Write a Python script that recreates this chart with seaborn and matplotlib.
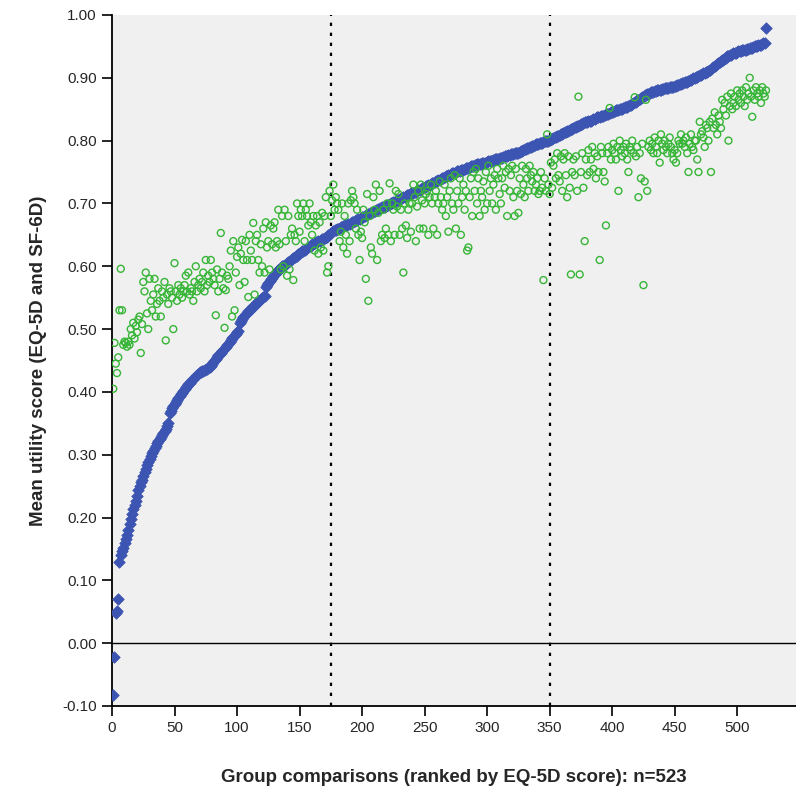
import numpy as np
import pandas as pd
import matplotlib
matplotlib.use('Agg')
import matplotlib.pyplot as plt
import seaborn as sns

# --- DADOS ---
# EQ-5D: valores ordenados (losangos azuis)
eq5d = [
    -0.083, -0.022, 0.048, 0.052, 0.070, 0.130, 0.140, 0.146, 0.152, 0.160,
    0.166, 0.172, 0.180, 0.190, 0.198, 0.206, 0.214, 0.220, 0.226, 0.234,
    0.244, 0.250, 0.256, 0.260, 0.266, 0.272, 0.278, 0.284, 0.288, 0.293,
    0.298, 0.302, 0.306, 0.310, 0.314, 0.318, 0.322, 0.325, 0.328, 0.331,
    0.334, 0.337, 0.341, 0.345, 0.350, 0.366, 0.370, 0.374, 0.378, 0.381,
    0.384, 0.387, 0.390, 0.393, 0.396, 0.399, 0.402, 0.405, 0.408, 0.410,
    0.412, 0.414, 0.417, 0.419, 0.421, 0.423, 0.425, 0.427, 0.429, 0.431,
    0.432, 0.433, 0.434, 0.435, 0.436, 0.437, 0.438, 0.440, 0.442, 0.444,
    0.447, 0.450, 0.452, 0.455, 0.458, 0.460, 0.462, 0.465, 0.467, 0.470,
    0.472, 0.474, 0.477, 0.480, 0.483, 0.486, 0.488, 0.490, 0.492, 0.495,
    0.497, 0.510, 0.513, 0.516, 0.519, 0.522, 0.524, 0.526, 0.528, 0.530,
    0.532, 0.534, 0.536, 0.538, 0.540, 0.542, 0.544, 0.546, 0.548, 0.550,
    0.551, 0.553, 0.567, 0.570, 0.573, 0.576, 0.579, 0.582, 0.585, 0.588,
    0.590, 0.592, 0.594, 0.596, 0.598, 0.600, 0.601, 0.602, 0.604, 0.605,
    0.607, 0.608, 0.610, 0.611, 0.613, 0.614, 0.616, 0.617, 0.619, 0.621,
    0.622, 0.624, 0.625, 0.626, 0.628, 0.629, 0.630, 0.632, 0.633, 0.635,
    0.636, 0.637, 0.638, 0.639, 0.640, 0.641, 0.642, 0.643, 0.644, 0.645,
    0.646, 0.647, 0.649, 0.651, 0.653, 0.655, 0.656, 0.657, 0.658, 0.659,
    0.660, 0.661, 0.662, 0.663, 0.664, 0.665, 0.665, 0.666, 0.667, 0.668,
    0.669, 0.670, 0.671, 0.672, 0.673, 0.674, 0.675, 0.676, 0.677, 0.678,
    0.679, 0.680, 0.681, 0.682, 0.683, 0.684, 0.685, 0.686, 0.687, 0.688,
    0.689, 0.690, 0.691, 0.692, 0.693, 0.694, 0.694, 0.695, 0.696, 0.697,
    0.698, 0.699, 0.700, 0.701, 0.702, 0.703, 0.704, 0.705, 0.706, 0.707,
    0.708, 0.709, 0.710, 0.711, 0.712, 0.713, 0.714, 0.715, 0.716, 0.717,
    0.717, 0.718, 0.719, 0.720, 0.721, 0.722, 0.723, 0.724, 0.725, 0.726,
    0.727, 0.728, 0.729, 0.730, 0.731, 0.732, 0.733, 0.734, 0.735, 0.736,
    0.737, 0.738, 0.739, 0.740, 0.741, 0.742, 0.743, 0.744, 0.745, 0.746,
    0.747, 0.748, 0.748, 0.749, 0.750, 0.751, 0.751, 0.752, 0.753, 0.754,
    0.754, 0.755, 0.756, 0.757, 0.757, 0.758, 0.759, 0.759, 0.760, 0.761,
    0.761, 0.762, 0.762, 0.763, 0.763, 0.764, 0.764, 0.765, 0.765, 0.766,
    0.767, 0.767, 0.768, 0.768, 0.769, 0.770, 0.770, 0.771, 0.771, 0.772,
    0.773, 0.773, 0.774, 0.775, 0.775, 0.776, 0.777, 0.777, 0.778, 0.779,
    0.779, 0.780, 0.780, 0.781, 0.781, 0.782, 0.783, 0.784, 0.785, 0.786,
    0.787, 0.788, 0.789, 0.790, 0.790, 0.791, 0.792, 0.793, 0.794, 0.795,
    0.795, 0.796, 0.797, 0.797, 0.798, 0.799, 0.799, 0.800, 0.800, 0.801,
    0.802, 0.803, 0.804, 0.805, 0.806, 0.807, 0.808, 0.809, 0.810, 0.811,
    0.812, 0.813, 0.814, 0.815, 0.816, 0.817, 0.818, 0.819, 0.820, 0.821,
    0.822, 0.823, 0.824, 0.825, 0.826, 0.827, 0.828, 0.829, 0.829, 0.830,
    0.831, 0.832, 0.832, 0.833, 0.834, 0.835, 0.836, 0.837, 0.837, 0.838,
    0.839, 0.840, 0.840, 0.841, 0.842, 0.843, 0.843, 0.844, 0.845, 0.846,
    0.846, 0.847, 0.848, 0.849, 0.849, 0.850, 0.851, 0.851, 0.852, 0.853,
    0.853, 0.854, 0.855, 0.856, 0.857, 0.858, 0.860, 0.861, 0.862, 0.864,
    0.865, 0.866, 0.868, 0.869, 0.870, 0.872, 0.873, 0.874, 0.875, 0.876,
    0.877, 0.877, 0.878, 0.879, 0.879, 0.880, 0.880, 0.881, 0.881, 0.882,
    0.882, 0.883, 0.883, 0.884, 0.884, 0.885, 0.885, 0.886, 0.886, 0.887,
    0.887, 0.888, 0.889, 0.890, 0.890, 0.891, 0.892, 0.893, 0.894, 0.894,
    0.895, 0.896, 0.897, 0.898, 0.899, 0.900, 0.901, 0.902, 0.903, 0.904,
    0.905, 0.906, 0.907, 0.908, 0.909, 0.910, 0.911, 0.913, 0.914, 0.916,
    0.917, 0.919, 0.920, 0.922, 0.923, 0.925, 0.926, 0.928, 0.929, 0.931,
    0.932, 0.934, 0.935, 0.936, 0.937, 0.938, 0.939, 0.940, 0.940, 0.941,
    0.942, 0.942, 0.943, 0.944, 0.944, 0.945, 0.945, 0.946, 0.946, 0.947,
    0.948, 0.948, 0.949, 0.950, 0.950, 0.951, 0.952, 0.952, 0.953, 0.954,
    0.955, 0.956, 0.980,
]

# SF-6D: mesmo grupo, na ordem do EQ-5D (círculos verdes)
sf6d = [
    0.405, 0.478, 0.445, 0.430, 0.455, 0.530, 0.596, 0.530, 0.475, 0.480,
    0.478, 0.472, 0.480, 0.475, 0.500, 0.490, 0.510, 0.485, 0.505, 0.495,
    0.515, 0.520, 0.462, 0.508, 0.575, 0.560, 0.590, 0.525, 0.500, 0.580,
    0.545, 0.530, 0.555, 0.580, 0.520, 0.540, 0.565, 0.545, 0.520, 0.560,
    0.550, 0.575, 0.482, 0.555, 0.540, 0.565, 0.560, 0.550, 0.500, 0.605,
    0.560, 0.545, 0.570, 0.555, 0.565, 0.550, 0.560, 0.570, 0.585, 0.560,
    0.590, 0.555, 0.565, 0.560, 0.545, 0.575, 0.600, 0.560, 0.570, 0.580,
    0.565, 0.575, 0.590, 0.560, 0.610, 0.570, 0.585, 0.575, 0.610, 0.590,
    0.580, 0.570, 0.522, 0.595, 0.560, 0.580, 0.653, 0.590, 0.565, 0.502,
    0.562, 0.585, 0.580, 0.600, 0.625, 0.520, 0.640, 0.530, 0.590, 0.615,
    0.630, 0.570, 0.620, 0.642, 0.610, 0.575, 0.640, 0.610, 0.551, 0.650,
    0.625, 0.610, 0.669, 0.555, 0.640, 0.650, 0.610, 0.590, 0.635, 0.600,
    0.660, 0.590, 0.670, 0.630, 0.640, 0.595, 0.665, 0.635, 0.660, 0.670,
    0.630, 0.640, 0.690, 0.635, 0.595, 0.680, 0.600, 0.690, 0.640, 0.585,
    0.680, 0.595, 0.650, 0.660, 0.578, 0.650, 0.640, 0.700, 0.680, 0.655,
    0.690, 0.680, 0.700, 0.640, 0.690, 0.680, 0.665, 0.700, 0.670, 0.650,
    0.680, 0.625, 0.665, 0.680, 0.620, 0.670, 0.630, 0.685, 0.625, 0.680,
    0.710, 0.590, 0.600, 0.720, 0.680, 0.705, 0.730, 0.690, 0.710, 0.700,
    0.690, 0.640, 0.655, 0.700, 0.630, 0.680, 0.650, 0.620, 0.700, 0.640,
    0.705, 0.720, 0.710, 0.700, 0.660, 0.690, 0.650, 0.610, 0.655, 0.645,
    0.690, 0.670, 0.580, 0.715, 0.545, 0.680, 0.630, 0.620, 0.710, 0.690,
    0.730, 0.610, 0.685, 0.720, 0.640, 0.650, 0.690, 0.645, 0.660, 0.700,
    0.650, 0.732, 0.640, 0.700, 0.690, 0.650, 0.720, 0.695, 0.715, 0.650,
    0.690, 0.660, 0.590, 0.700, 0.665, 0.645, 0.690, 0.700, 0.655, 0.700,
    0.730, 0.710, 0.640, 0.695, 0.720, 0.660, 0.730, 0.705, 0.660, 0.700,
    0.715, 0.720, 0.650, 0.710, 0.730, 0.700, 0.660, 0.710, 0.720, 0.650,
    0.700, 0.735, 0.710, 0.690, 0.700, 0.730, 0.680, 0.710, 0.655, 0.720,
    0.740, 0.700, 0.690, 0.745, 0.660, 0.720, 0.700, 0.740, 0.650, 0.710,
    0.730, 0.690, 0.720, 0.625, 0.630, 0.710, 0.740, 0.680, 0.750, 0.720,
    0.755, 0.700, 0.740, 0.680, 0.720, 0.710, 0.735, 0.690, 0.750, 0.700,
    0.760, 0.720, 0.740, 0.700, 0.730, 0.745, 0.690, 0.755, 0.740, 0.715,
    0.700, 0.740, 0.760, 0.725, 0.750, 0.680, 0.755, 0.720, 0.745, 0.760,
    0.710, 0.680, 0.755, 0.720, 0.685, 0.740, 0.715, 0.760, 0.730, 0.710,
    0.755, 0.740, 0.720, 0.760, 0.745, 0.735, 0.750, 0.720, 0.730, 0.740,
    0.715, 0.720, 0.750, 0.725, 0.578, 0.740, 0.720, 0.810, 0.730, 0.715,
    0.765, 0.725, 0.760, 0.770, 0.740, 0.780, 0.745, 0.735, 0.775, 0.720,
    0.770, 0.780, 0.745, 0.710, 0.775, 0.725, 0.587, 0.750, 0.770, 0.745,
    0.775, 0.720, 0.870, 0.587, 0.750, 0.780, 0.725, 0.640, 0.770, 0.745,
    0.785, 0.750, 0.770, 0.790, 0.755, 0.780, 0.740, 0.775, 0.750, 0.610,
    0.790, 0.780, 0.750, 0.735, 0.665, 0.780, 0.790, 0.852, 0.770, 0.785,
    0.795, 0.780, 0.770, 0.790, 0.720, 0.800, 0.785, 0.775, 0.790, 0.780,
    0.795, 0.770, 0.750, 0.790, 0.785, 0.800, 0.780, 0.869, 0.775, 0.790,
    0.710, 0.780, 0.740, 0.795, 0.570, 0.735, 0.865, 0.720, 0.790, 0.800,
    0.785, 0.795, 0.780, 0.805, 0.790, 0.780, 0.800, 0.765, 0.810, 0.795,
    0.785, 0.800, 0.790, 0.780, 0.795, 0.805, 0.790, 0.780, 0.770, 0.785,
    0.765, 0.780, 0.800, 0.795, 0.810, 0.795, 0.800, 0.790, 0.805, 0.780,
    0.750, 0.795, 0.810, 0.790, 0.785, 0.800, 0.800, 0.770, 0.750, 0.830,
    0.810, 0.815, 0.805, 0.790, 0.825, 0.820, 0.800, 0.830, 0.750, 0.835,
    0.820, 0.845, 0.825, 0.810, 0.840, 0.830, 0.820, 0.865, 0.850, 0.860,
    0.840, 0.870, 0.800, 0.855, 0.875, 0.850, 0.860, 0.870, 0.855, 0.880,
    0.865, 0.875, 0.860, 0.880, 0.870, 0.855, 0.885, 0.865, 0.875, 0.900,
    0.870, 0.838, 0.880, 0.865, 0.885, 0.875, 0.870, 0.880, 0.860, 0.885,
    0.875, 0.870, 0.880,
]

ranks = list(range(1, len(eq5d) + 1))
cortes = [175, 350]
y_ticks = [-0.10, 0.00, 0.10, 0.20, 0.30, 0.40, 0.50, 0.60, 0.70, 0.80, 0.90, 1.00]
x_ticks = [0, 50, 100, 150, 200, 250, 300, 350, 400, 450, 500]

AZUL = '#3d55b2'
VERDE = '#36b536'

df = pd.DataFrame({'rank': ranks, 'eq5d': eq5d, 'sf6d': sf6d})

sns.set_style('ticks', {'axes.facecolor': '#f0f0f0'})
plt.rcParams['font.family'] = ['Liberation Sans', 'DejaVu Sans']

fig = plt.figure(figsize=(7.96, 7.89), dpi=100)
ax = fig.add_axes([0.1407, 0.1052, 0.8593, 0.8758])

# azul primeiro, verde por cima (como no original)
sns.scatterplot(data=df, x='rank', y='eq5d', marker='D', color=AZUL, edgecolor=AZUL,
                s=34, linewidth=0.6, ax=ax, zorder=3)
sns.scatterplot(data=df, x='rank', y='sf6d', marker='o', fc='none', ec=VERDE,
                s=25, linewidth=1.0, ax=ax, zorder=4)

ax.axhline(0, color='black', linewidth=1.0, zorder=2)
for c in cortes:
    ax.axvline(c, color='black', linestyle=(0, (1.5, 3)), linewidth=1.6, zorder=2)

ax.set_xlim(0, 547)
ax.set_ylim(-0.10, 1.00)
ax.set_xticks(x_ticks)
ax.set_yticks(y_ticks)
ax.set_yticklabels([f'{v:.2f}' for v in y_ticks])
ax.tick_params(axis='both', labelsize=11, length=7, width=1.2, color='black', pad=4)

for lado in ['top', 'right']:
    ax.spines[lado].set_visible(False)
for lado in ['left', 'bottom']:
    ax.spines[lado].set_color('black')
    ax.spines[lado].set_linewidth(1.3)

ax.set_xlabel('Group comparisons (ranked by EQ-5D score): n=523', fontsize=13.5,
              fontweight='bold', labelpad=24)
ax.set_ylabel('Mean utility score (EQ-5D and SF-6D)', fontsize=13.5,
              fontweight='bold', labelpad=11)

fig.savefig('out.png', dpi=100)
